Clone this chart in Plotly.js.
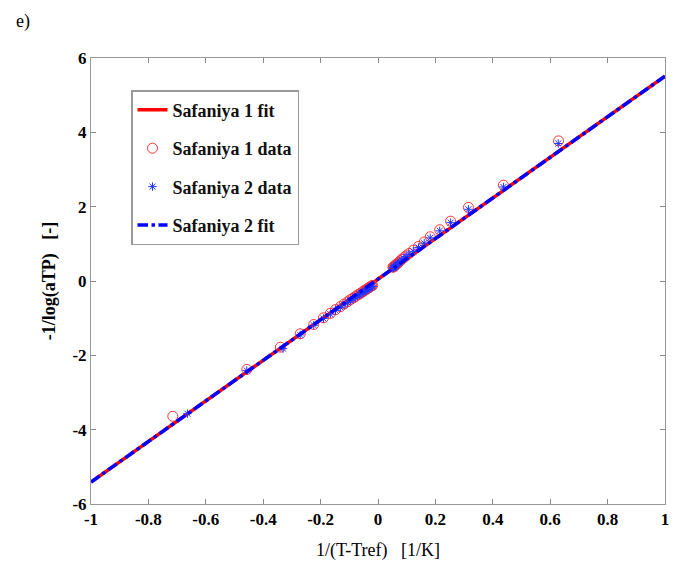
<!DOCTYPE html>
<html><head><meta charset="utf-8">
<script src="https://cdn.plot.ly/plotly-3.0.1.min.js"></script>
<style>html,body{margin:0;padding:0;background:#fff}#c{width:687px;height:578px}</style>
</head><body><div id="c"></div>
<script>
// Fit lines (endpoints)
const fitX = [-1, 1];
const fit1Y = [-5.41, 5.51];
const fit2Y = [-5.41, 5.51];

// Safaniya 1 data (circles)
const s1X = [0.629,0.437,0.315,0.253,0.215,0.182,0.161,0.141,0.123,0.108,0.098,0.090,0.083,0.077,0.072,0.068,0.064,0.061,0.058,0.056,0.054,0.052,
  -0.715,-0.457,-0.340,-0.271,-0.224,-0.190,-0.166,-0.148,-0.131,-0.118,-0.106,-0.096,-0.087,-0.079,-0.072,-0.065,-0.059,-0.053,-0.048,-0.043,-0.038,-0.034,-0.030,-0.026,-0.022,-0.019];
const s1Y = [3.77,2.58,1.98,1.61,1.38,1.19,1.05,0.93,0.83,0.74,0.68,0.63,0.58,0.54,0.50,0.47,0.45,0.43,0.41,0.39,0.38,0.37,
  -3.64,-2.38,-1.78,-1.42,-1.17,-0.99,-0.87,-0.77,-0.69,-0.62,-0.56,-0.50,-0.46,-0.42,-0.38,-0.35,-0.32,-0.29,-0.26,-0.24,-0.21,-0.19,-0.17,-0.15,-0.13,-0.12];

// Safaniya 2 data (asterisks)
const s2X = [0.628,0.437,0.315,0.253,0.215,0.182,0.161,0.141,0.123,0.108,0.098,0.090,0.083,0.077,0.072,0.068,0.064,0.061,0.058,0.056,0.054,0.052,
  -0.664,-0.457,-0.331,-0.271,-0.224,-0.190,-0.166,-0.148,-0.131,-0.118,-0.106,-0.096,-0.087,-0.079,-0.072,-0.065,-0.059,-0.053,-0.048,-0.043,-0.038,-0.034,-0.030,-0.026,-0.022,-0.019];
const s2Y = [3.70,2.53,1.93,1.57,1.35,1.16,1.02,0.90,0.80,0.72,0.66,0.61,0.56,0.52,0.48,0.45,0.43,0.41,0.39,0.37,0.36,0.35,
  -3.57,-2.41,-1.82,-1.45,-1.19,-1.01,-0.89,-0.79,-0.71,-0.64,-0.58,-0.52,-0.48,-0.44,-0.40,-0.37,-0.34,-0.31,-0.28,-0.26,-0.23,-0.21,-0.19,-0.17,-0.15,-0.14];

const names = ["Safaniya 1 fit","Safaniya 1 data","Safaniya 2 data","Safaniya 2 fit"];
const xTicks = [-1,-0.8,-0.6,-0.4,-0.2,0,0.2,0.4,0.6,0.8,1];
const yTicks = [-6,-4,-2,0,2,4,6];

const serif = "Liberation Serif";

const traces = [
  {x: fitX, y: fit1Y, mode: "lines", name: names[0], legendgroup: "a",
   line: {color: "#ff0000", width: 3.5}},
  {x: s1X, y: s1Y, mode: "markers", name: names[1], legendgroup: "b",
   marker: {symbol: "circle-open", size: 10, color: "#ff3333", line: {width: 1}}},
  {x: s2X, y: s2Y, mode: "markers", name: names[2], legendgroup: "c",
   marker: {symbol: "asterisk-open", size: 7, color: "#2233ff", line: {width: 1, color: "#2233ff"}}},
  {x: fitX, y: fit2Y, mode: "lines", name: names[3], legendgroup: "d",
   line: {color: "#0000ff", width: 3.5, dash: "dashdot"}}
];

const axCommon = {
  showgrid: false, zeroline: false, showline: true, linecolor: "#999", linewidth: 1,
  mirror: "ticks", ticks: "inside", ticklen: 5, tickcolor: "#888",
  tickfont: {family: serif, size: 17, color: "#000", weight: 700}
};

const layout = {
  width: 687, height: 578,
  margin: {l: 91, r: 22, t: 58, b: 74},
  paper_bgcolor: "#fff", plot_bgcolor: "#fff",
  showlegend: true,
  legend: {x: 0.0697, y: 0.928, xanchor: "left", yanchor: "top",
    bgcolor: "#fff", bordercolor: "#999", borderwidth: 1.5,
    font: {family: serif, size: 18, color: "#111", weight: 700},
    traceorder: "grouped", tracegroupgap: 12, itemwidth: 30},
  xaxis: Object.assign({}, axCommon, {range: [-1, 1], tickvals: xTicks,
    ticktext: xTicks.map(String),
    title: {text: "1/(T-Tref)   [1/K]", font: {family: serif, size: 18, color: "#000"}, standoff: 14}}),
  yaxis: Object.assign({}, axCommon, {range: [-6, 6], tickvals: yTicks,
    ticktext: yTicks.map(String),
    title: {text: "-1/log(aTP)   [-]", font: {family: serif, size: 18, color: "#000", weight: 700}, standoff: 12}}),
  annotations: [{text: "e)", xref: "paper", yref: "paper", x: -0.135, y: 1.11,
    xanchor: "left", yanchor: "top", showarrow: false,
    font: {family: serif, size: 18, color: "#000"}}]
};

Plotly.newPlot("c", traces, layout, {displayModeBar: false, staticPlot: true});
</script>
</body></html>
